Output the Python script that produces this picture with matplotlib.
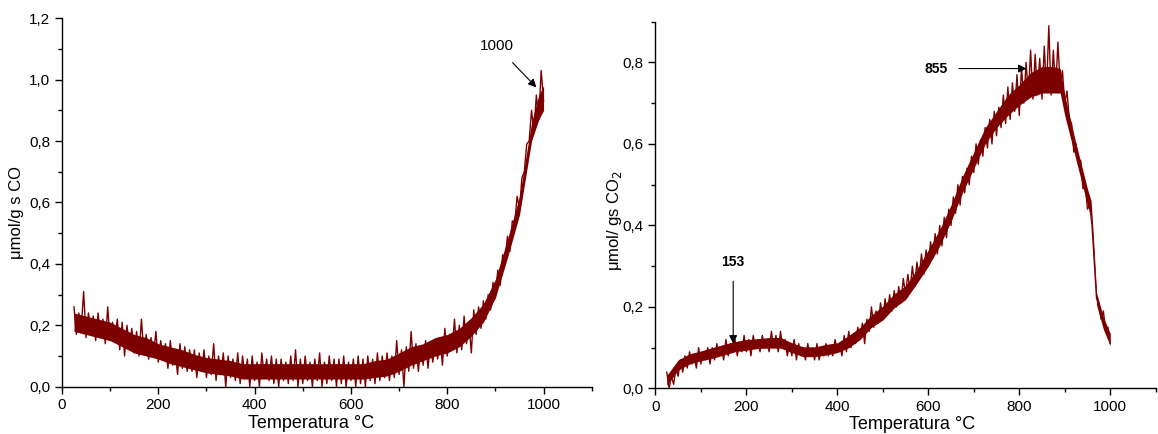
import numpy as np
import matplotlib
matplotlib.use("Agg")
import matplotlib.pyplot as plt
from matplotlib.ticker import MultipleLocator, FuncFormatter

plt.rcParams['font.family'] = ['Liberation Sans', 'DejaVu Sans']

# Temperatures (°C), one reading every 5 °C from 25 to 1000
temp = list(range(25, 1001, 5))

# CO signal (µmol/g s) (alternating band top / bottom)
co = [
    0.26, 0.17, 0.24, 0.19, 0.31, 0.16, 0.24, 0.18, 0.23, 0.15,
    0.24, 0.17, 0.22, 0.14, 0.26, 0.15, 0.21, 0.16, 0.22, 0.12,
    0.21, 0.10, 0.20, 0.13, 0.19, 0.11, 0.18, 0.10, 0.22, 0.11,
    0.17, 0.09, 0.16, 0.10, 0.18, 0.08, 0.15, 0.09, 0.14, 0.06,
    0.15, 0.07, 0.12, 0.04, 0.14, 0.06, 0.13, 0.05, 0.12, 0.05,
    0.12, 0.03, 0.11, 0.05, 0.12, 0.03, 0.10, 0.04, 0.14, 0.02,
    0.10, 0.04, 0.11, 0.00, 0.10, 0.03, 0.09, 0.02, 0.11, 0.01,
    0.10, 0.03, 0.09, 0.00, 0.10, 0.02, 0.08, 0.00, 0.11, 0.03,
    0.09, 0.02, 0.10, 0.01, 0.09, 0.00, 0.09, 0.02, 0.08, 0.01,
    0.10, 0.02, 0.12, 0.00, 0.09, 0.01, 0.10, 0.02, 0.08, 0.00,
    0.09, 0.02, 0.11, 0.00, 0.08, 0.01, 0.10, 0.02, 0.09, 0.00,
    0.09, 0.01, 0.10, 0.00, 0.08, 0.02, 0.09, 0.00, 0.10, 0.01,
    0.09, 0.00, 0.10, 0.02, 0.09, 0.01, 0.11, 0.02, 0.10, 0.03,
    0.11, 0.02, 0.10, 0.03, 0.15, 0.04, 0.12, 0.00, 0.13, 0.05,
    0.18, 0.06, 0.14, 0.05, 0.13, 0.07, 0.15, 0.06, 0.14, 0.08,
    0.15, 0.09, 0.16, 0.07, 0.19, 0.10, 0.17, 0.12, 0.22, 0.11,
    0.20, 0.12, 0.23, 0.14, 0.21, 0.11, 0.25, 0.17, 0.26, 0.19,
    0.28, 0.22, 0.30, 0.25, 0.34, 0.29, 0.38, 0.33, 0.43, 0.41,
    0.49, 0.44, 0.54, 0.53, 0.62, 0.58, 0.68, 0.70, 0.79, 0.80,
    0.90, 0.83, 0.95, 0.87, 1.03, 0.93,
]

# Dense part of the CO noise band (lower / upper edge)
co_band_t = [25, 50, 75, 100, 125, 150, 175, 200, 225, 250, 275, 300, 325,
             350, 375, 400, 450, 500, 550, 600, 625, 650, 675, 700, 725, 750,
             775, 800, 825, 850, 875, 900, 925, 950, 975, 990, 1000]
co_lo = [0.18, 0.17, 0.16, 0.15, 0.13, 0.11, 0.10, 0.09, 0.075, 0.065, 0.055,
         0.045, 0.04, 0.035, 0.025, 0.025, 0.025, 0.025, 0.025, 0.025, 0.025,
         0.03, 0.035, 0.05, 0.07, 0.085, 0.10, 0.11, 0.13, 0.165, 0.21, 0.29,
         0.42, 0.56, 0.80, 0.87, 0.90]
co_hi = [0.24, 0.23, 0.22, 0.21, 0.19, 0.17, 0.16, 0.14, 0.13, 0.12, 0.105,
         0.095, 0.09, 0.085, 0.075, 0.075, 0.075, 0.075, 0.075, 0.075, 0.075,
         0.085, 0.09, 0.11, 0.13, 0.14, 0.16, 0.17, 0.19, 0.225, 0.27, 0.35,
         0.48, 0.62, 0.86, 0.95, 0.98]

# CO2 signal (µmol/g s)
co2 = [
    0.04, 0.00, 0.03, 0.01, 0.05, 0.03, 0.07, 0.04, 0.08, 0.05,
    0.09, 0.06, 0.08, 0.05, 0.10, 0.06, 0.09, 0.07, 0.10, 0.06,
    0.10, 0.07, 0.11, 0.08, 0.10, 0.07, 0.12, 0.08, 0.11, 0.09,
    0.12, 0.08, 0.11, 0.09, 0.13, 0.09, 0.12, 0.08, 0.13, 0.10,
    0.12, 0.09, 0.13, 0.10, 0.12, 0.09, 0.14, 0.10, 0.13, 0.09,
    0.14, 0.10, 0.12, 0.08, 0.11, 0.08, 0.12, 0.07, 0.11, 0.08,
    0.10, 0.07, 0.11, 0.08, 0.10, 0.07, 0.11, 0.07, 0.10, 0.08,
    0.11, 0.08, 0.10, 0.08, 0.12, 0.09, 0.11, 0.08, 0.13, 0.09,
    0.14, 0.10, 0.13, 0.11, 0.15, 0.12, 0.16, 0.11, 0.17, 0.14,
    0.20, 0.15, 0.19, 0.16, 0.21, 0.17, 0.22, 0.18, 0.23, 0.19,
    0.24, 0.20, 0.25, 0.21, 0.27, 0.23, 0.28, 0.24, 0.30, 0.25,
    0.31, 0.27, 0.33, 0.28, 0.34, 0.30, 0.36, 0.32, 0.38, 0.33,
    0.40, 0.35, 0.42, 0.37, 0.44, 0.40, 0.47, 0.43, 0.50, 0.45,
    0.52, 0.48, 0.54, 0.50, 0.57, 0.53, 0.60, 0.55, 0.61, 0.57,
    0.64, 0.59, 0.66, 0.60, 0.68, 0.62, 0.69, 0.64, 0.72, 0.65,
    0.74, 0.66, 0.75, 0.68, 0.77, 0.67, 0.79, 0.70, 0.80, 0.72,
    0.83, 0.71, 0.82, 0.72, 0.81, 0.71, 0.84, 0.73, 0.89, 0.72,
    0.83, 0.73, 0.85, 0.74, 0.78, 0.70, 0.73, 0.66, 0.65, 0.58,
    0.60, 0.55, 0.56, 0.49, 0.50, 0.44, 0.45, 0.40, 0.31, 0.22,
    0.21, 0.17, 0.19, 0.14, 0.15, 0.11,
]

# Dense part of the CO2 noise band (lower / upper edge)
co2_band_t = [25, 50, 75, 100, 125, 150, 175, 200, 225, 250, 275, 300, 325,
              350, 375, 400, 425, 450, 475, 500, 525, 550, 575, 600, 625, 650,
              675, 700, 725, 750, 775, 800, 825, 850, 875, 890, 900, 925, 950,
              958, 963, 970, 985, 1000]
co2_lo = [0.008, 0.045, 0.06, 0.068, 0.074, 0.082, 0.09, 0.094, 0.098,
          0.099, 0.099, 0.088, 0.078, 0.078, 0.082, 0.088, 0.10, 0.12, 0.15,
          0.168, 0.198, 0.218, 0.258, 0.30, 0.35, 0.41, 0.48, 0.54, 0.60,
          0.64, 0.67, 0.695, 0.715, 0.725, 0.725, 0.725, 0.67, 0.56, 0.45,
          0.42, 0.335, 0.205, 0.145, 0.105]
co2_hi = [0.032, 0.07, 0.085, 0.092, 0.10, 0.108, 0.115, 0.12, 0.122,
          0.125, 0.125, 0.112, 0.102, 0.102, 0.108, 0.112, 0.13, 0.15, 0.18,
          0.202, 0.232, 0.252, 0.292, 0.34, 0.39, 0.45, 0.52, 0.58, 0.64,
          0.68, 0.72, 0.745, 0.775, 0.79, 0.79, 0.785, 0.72, 0.60, 0.49,
          0.46, 0.375, 0.235, 0.175, 0.135]

x_ticks = [0, 200, 400, 600, 800, 1000]
co_yticks = [0.0, 0.2, 0.4, 0.6, 0.8, 1.0, 1.2]
co2_yticks = [0.0, 0.2, 0.4, 0.6, 0.8]

LINE = '#7d0000'
comma = FuncFormatter(lambda v, p: f"{v:.1f}".replace('.', ','))

fig = plt.figure(figsize=(11.58, 4.34), dpi=100)
ax1 = fig.add_axes([0.0535, 0.109, 0.4575, 0.849])
ax2 = fig.add_axes([0.566, 0.105, 0.432, 0.845])

def style(ax, ymax, yticks, xlab_x):
    ax.set_xlim(0, 1100)
    ax.set_ylim(0, ymax)
    ax.set_xticks(x_ticks)
    ax.set_yticks(yticks)
    ax.xaxis.set_minor_locator(MultipleLocator(100))
    ax.yaxis.set_minor_locator(MultipleLocator(0.1))
    ax.yaxis.set_major_formatter(comma)
    for s in ('top', 'right'):
        ax.spines[s].set_visible(False)
    for s in ('left', 'bottom'):
        ax.spines[s].set_linewidth(1.0)
    ax.tick_params(which='major', direction='out', length=5, width=1, labelsize=11)
    ax.tick_params(which='minor', direction='out', length=3, width=1)
    ax.set_xlabel('Temperatura °C', fontsize=13, labelpad=0)
    ax.xaxis.set_label_coords(xlab_x, -0.076)

ax1.fill_between(co_band_t, co_lo, co_hi, color=LINE, lw=0)
ax1.plot(temp, co, color=LINE, lw=1.0)
style(ax1, 1.2, co_yticks, 0.47)
ax1.set_ylabel('μmol/g s CO', fontsize=12, labelpad=2)
ax1.yaxis.set_label_coords(-0.072, 0.474)
ax1.annotate('1000', xy=(985, 0.975), xytext=(902, 1.11), fontsize=11,
             ha='center', va='center',
             arrowprops=dict(arrowstyle='-|>', color='black', lw=0.8,
                             mutation_scale=12, shrinkA=7, shrinkB=0))

ax2.fill_between(co2_band_t, co2_lo, co2_hi, color=LINE, lw=0)
ax2.plot(temp, co2, color=LINE, lw=1.0)
style(ax2, 0.9, co2_yticks, 0.513)
ax2.set_ylabel('μmol/ gs CO$_2$', fontsize=12, labelpad=2)
ax2.yaxis.set_label_coords(-0.063, 0.458)
ax2.annotate('153', xy=(171, 0.11), xytext=(171, 0.311), fontsize=10,
             fontweight='bold', ha='center', va='center',
             arrowprops=dict(arrowstyle='-|>', color='black', lw=0.8,
                             mutation_scale=12, shrinkA=7, shrinkB=0))
ax2.annotate('855', xy=(816, 0.785), xytext=(617, 0.785), fontsize=10,
             fontweight='bold', ha='center', va='center',
             arrowprops=dict(arrowstyle='-|>', color='black', lw=0.8,
                             mutation_scale=12, shrinkA=6, shrinkB=0))

fig.savefig('out.png', dpi=100)
